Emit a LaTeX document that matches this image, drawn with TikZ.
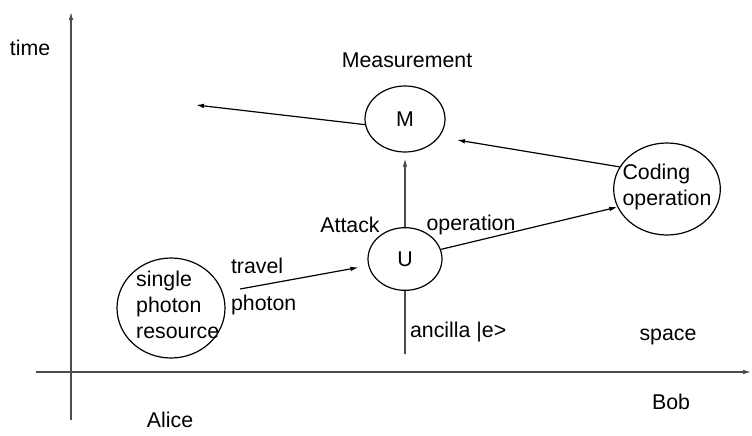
\documentclass[tikz,border=0pt]{standalone}
\usepackage{fontspec}
\setmainfont{Liberation Sans}
\usetikzlibrary{shapes.geometric,arrows.meta}
\begin{document}
\begin{tikzpicture}[x=0.75pt,y=-0.75pt,line width=0.9pt,
                    font=\fontsize{16}{19.5}\selectfont,
                    main node/.style={ellipse,draw,inner sep=0pt},
                    arr/.style={-{Latex[length=6pt,width=3.5pt]}},
                    axis/.style={draw=black!70}]
  \useasboundingbox (0,0) rectangle (752,435);

  % Axes
  \coordinate (t0) at (71,420);
  \coordinate (t1) at (71,12);
  \coordinate (x0) at (36,372);
  \coordinate (x1) at (751,372);
  \draw[axis,arr] (t0) -- (t1);
  \draw[axis,arr] (x0) -- (x1);

  % Circles
  \node[main node,minimum width=60pt,minimum height=49.5pt] (M) at (405,119) {M};
  \node[main node,minimum width=55.5pt,minimum height=47pt] (U) at (405,259) {U};
  \node[main node,minimum width=81pt,minimum height=75pt,
        label={[align=left,xshift=5pt,yshift=2pt]center:single\\photon\\resource}] (S) at (171,308) {};
  \node[main node,minimum width=80pt,minimum height=69pt,
        label={[align=left,yshift=1.5pt]center:Coding\\operation}] (C) at (667,189) {};

  % Texts
  \node (time) at (30,48) {time};
  \node (alice) at (170,420) {Alice};
  \node (bob) at (671,402) {Bob};
  \node (space) at (668,337) {space};
  \node (meas) at (407,60) {Measurement};
  \node (attack) at (350,225) {Attack};
  \node (oper) at (471,225) {operation};
  \node[anchor=west] (travel) at (226,266) {travel};
  \node[anchor=west] (photon) at (226,305) {photon};
  \node[anchor=west] (anc) at (405,332) {ancilla |e>};

  % Free ends
  \coordinate (src) at (240,289);
  \coordinate (lft) at (196,105);
  \coordinate (mid) at (457,140);
  \coordinate (bot) at (405,358);

  % Arrows
  \draw[arr,shorten >=7.5pt] (src) -- (U);
  \foreach \source/\target in {M.188/lft, C.155/mid, U.15/C.200}
    \draw[arr] (\source) -- (\target);
  \draw[axis,arr,shorten >=4.5pt] (U) -- (M);
  \draw[axis,shorten <=3pt] (bot) -- (U);
\end{tikzpicture}
\end{document}
